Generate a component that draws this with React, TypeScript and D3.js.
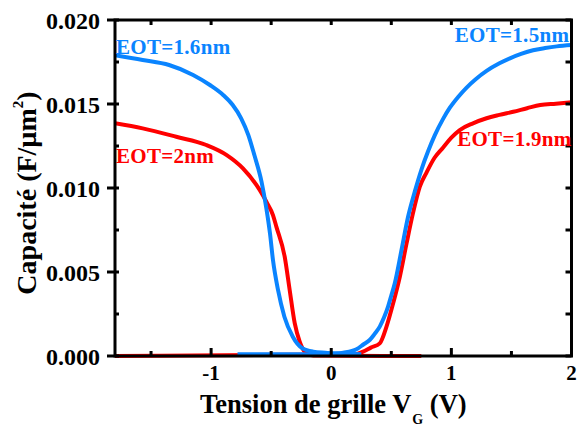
import React from "react";
import * as d3 from "d3";

// ---- data ----
const xTicks = [-1, 0, 1, 2];
const xMinorTicks = [-1.5, -0.5, 0.5, 1.5];
const yTicks = [0, 0.005, 0.01, 0.015, 0.02];
const yMinorTicks = [0.0025, 0.0075, 0.0125, 0.0175];

const blueLeftV = [-1.8, -1.57, -1.35, -1.15, -1.01, -0.9, -0.82, -0.75, -0.69, -0.64, -0.58, -0.54, -0.51, -0.485, -0.443, -0.39, -0.32, -0.24, -0.15, -0.05, 0.1, 0.25];
const blueLeftC = [0.0179, 0.01762, 0.01732, 0.01673, 0.01613, 0.01554, 0.01494, 0.01415, 0.01315, 0.01196, 0.01037, 0.00879, 0.0073, 0.00571, 0.00393, 0.00234, 0.00115, 0.00046, 0.00026, 0.0002, 0.00015, 0.0001];

const blueRightV = [-0.78, -0.3, 0.0, 0.1, 0.21, 0.27, 0.32, 0.36, 0.404, 0.44, 0.473, 0.5, 0.529, 0.585, 0.64, 0.696, 0.751, 0.807, 0.8625, 0.93, 0.9875, 1.06, 1.127, 1.2, 1.293, 1.4, 1.4875, 1.58, 1.68, 1.78, 1.877, 2.0];
const blueRightC = [0.0001, 0.0001, 0.00012, 0.0002, 0.0004, 0.0007, 0.00095, 0.0013, 0.00175, 0.0023, 0.00294, 0.0036, 0.00433, 0.00631, 0.0083, 0.0098, 0.0111, 0.0122, 0.01315, 0.0141, 0.01478, 0.01545, 0.01598, 0.01646, 0.01697, 0.01742, 0.01772, 0.01798, 0.0182, 0.01833, 0.01843, 0.01851];

const redLeftV = [-1.8, -1.57, -1.29, -1.04, -0.87, -0.735, -0.623, -0.568, -0.54, -0.485, -0.457, -0.3875, -0.346, -0.304, -0.2625, -0.22, -0.15, 0.75];
const redLeftC = [0.01385, 0.01355, 0.01305, 0.01256, 0.01196, 0.01117, 0.01018, 0.00955, 0.00918, 0.00839, 0.0077, 0.00591, 0.00393, 0.00195, 0.00085, 0.00026, 0.00003, 0];

const redRightV = [-1.8, 0.2, 0.265, 0.33, 0.404, 0.46, 0.515, 0.571, 0.627, 0.68, 0.7375, 0.793, 0.86, 0.93, 1.0, 1.07, 1.18, 1.293, 1.4, 1.515, 1.63, 1.74, 1.87, 2.0];
const redRightC = [0, 0.0001, 0.00026, 0.0005, 0.00075, 0.00175, 0.00313, 0.00472, 0.0067, 0.00849, 0.01008, 0.01092, 0.0118, 0.0124, 0.013, 0.01345, 0.01385, 0.01415, 0.01435, 0.01454, 0.01475, 0.01494, 0.01502, 0.0151];

const labels = [
  { text: "EOT=1.6nm", v: -1.8, c: 0.01797, color: "blue" },
  { text: "EOT=1.5nm", v: 1.02, c: 0.01867, color: "blue" },
  { text: "EOT=2nm", v: -1.8, c: 0.0115, color: "red" },
  { text: "EOT=1.9nm", v: 1.04, c: 0.01252, color: "red" },
];

const BLUE = "#0a84ff";
const RED = "#ff0000";
const FONT = "'Liberation Serif', 'Times New Roman', serif";

const W = 581, H = 426;
const M = { left: 115, right: 571.5, top: 20, bottom: 356 };

export default function App() {
  const x = d3.scaleLinear().domain([-1.8, 2]).range([M.left, M.right]);
  const y = d3.scaleLinear().domain([0, 0.02]).range([M.bottom, M.top]);

  const mk = (vs: number[], cs: number[]) =>
    d3.line<number>().x((_, i) => x(vs[i])).y((_, i) => y(cs[i])).curve(d3.curveMonotoneX)(vs.map((_, i) => i)) || "";

  const series = [
    { d: mk(redRightV, redRightC), color: RED },
    { d: mk(redLeftV, redLeftC), color: RED },
    { d: mk(blueRightV, blueRightC), color: BLUE },
    { d: mk(blueLeftV, blueLeftC), color: BLUE },
  ];

  return (
    <svg width={W} height={H} style={{ position: "absolute", left: 0, top: 0, background: "#fff" }} fontFamily={FONT} fontWeight="bold">
      <rect width={W} height={H} fill="#fff" />
      <defs>
        <clipPath id="plot">
          <rect x={M.left} y={M.top - 2} width={M.right - M.left} height={M.bottom - M.top + 4} />
        </clipPath>
      </defs>
      <g clipPath="url(#plot)">
        {series.map((s, i) => (
          <path key={i} d={s.d} fill="none" stroke={s.color} strokeWidth={4} strokeLinejoin="round" />
        ))}
      </g>
      {/* frame */}
      <rect x={M.left} y={M.top} width={M.right - M.left} height={M.bottom - M.top} fill="none" stroke="#000" strokeWidth={3} />
      {/* bottom & top ticks */}
      {xTicks.map((t) => (
        <g key={"xt" + t}>
          <line x1={x(t)} x2={x(t)} y1={M.bottom} y2={M.bottom - 8} stroke="#000" strokeWidth={3} />
          <line x1={x(t)} x2={x(t)} y1={M.top} y2={M.top + 5} stroke="#000" strokeWidth={3} />
          <text x={x(t)} y={380} fontSize={21} textAnchor="middle">{t < 0 ? "-" + Math.abs(t) : String(t)}</text>
        </g>
      ))}
      {xMinorTicks.map((t) => (
        <g key={"xm" + t}>
          <line x1={x(t)} x2={x(t)} y1={M.bottom} y2={M.bottom - 5} stroke="#000" strokeWidth={3} />
          <line x1={x(t)} x2={x(t)} y1={M.top} y2={M.top + 5} stroke="#000" strokeWidth={3} />
        </g>
      ))}
      {/* left & right ticks */}
      {yTicks.map((t) => (
        <g key={"yt" + t}>
          <line x1={M.left - 8} x2={M.left + 4} y1={y(t)} y2={y(t)} stroke="#000" strokeWidth={3} />
          <line x1={M.right} x2={M.right - 6} y1={y(t)} y2={y(t)} stroke="#000" strokeWidth={3} />
          <text x={100} y={y(t)} dy="0.36em" fontSize={24} textAnchor="end">{d3.format(".3f")(t)}</text>
        </g>
      ))}
      {yMinorTicks.map((t) => (
        <g key={"ym" + t}>
          <line x1={M.left} x2={M.left + 4} y1={y(t)} y2={y(t)} stroke="#000" strokeWidth={3} />
          <line x1={M.right} x2={M.right - 6} y1={y(t)} y2={y(t)} stroke="#000" strokeWidth={3} />
        </g>
      ))}
      {/* series labels */}
      {labels.map((l) => (
        <text key={l.text} x={x(l.v) + 1} y={y(l.c)} fontSize={21} letterSpacing={0.3} fill={l.color === "blue" ? BLUE : RED}>{l.text}</text>
      ))}
      {/* axis titles */}
      <text x={200} y={413} fontSize={26.5}>
        Tension de grille V<tspan fontSize={14} dx={1} dy={11}>G</tspan><tspan dy={-11}> (V)</tspan>
      </text>
      <text transform={`translate(36, ${193}) rotate(-90)`} fontSize={28} textAnchor="middle">
        Capacité (F/µm<tspan fontSize={15} dy={-13}>2</tspan><tspan dy={13}>)</tspan>
      </text>
    </svg>
  );
}
